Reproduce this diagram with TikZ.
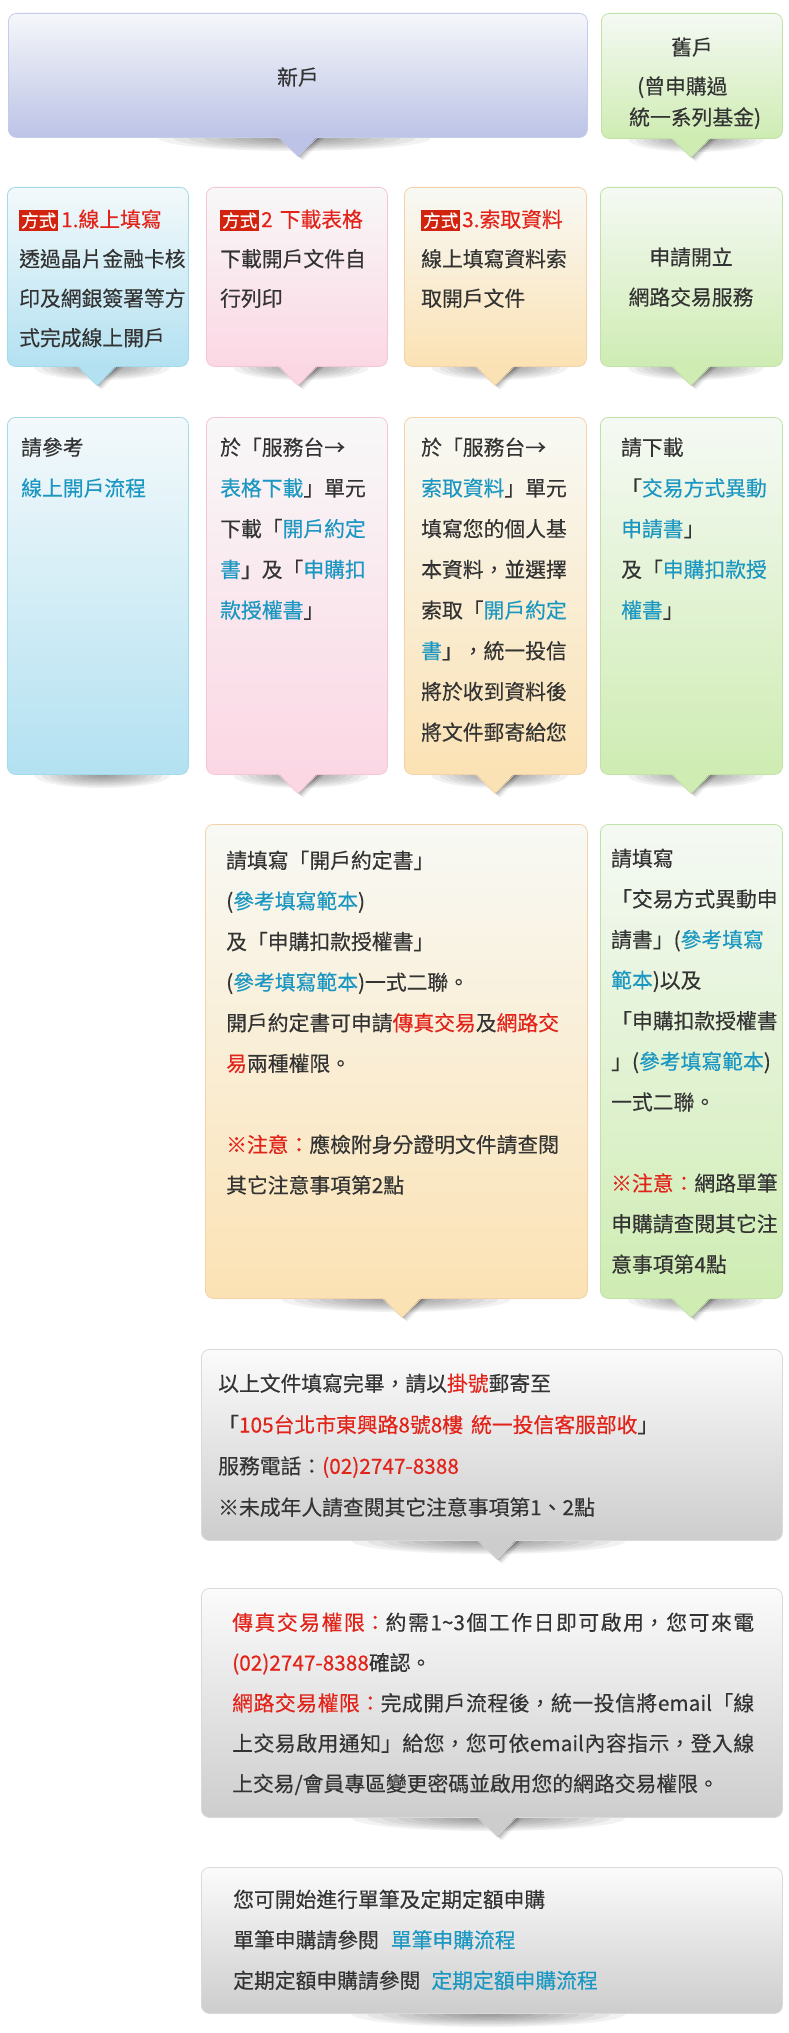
\documentclass[tikz,border=0pt]{standalone}
\usepackage{fontspec}
\setmainfont[FakeBold=0.3]{Noto Sans CJK TC}
\definecolor{txt}{HTML}{333333}
\definecolor{lnk}{HTML}{1B97C2}
\definecolor{rdc}{HTML}{E2231A}
\definecolor{bdg}{HTML}{D2230F}
\definecolor{lavtop}{HTML}{F5F7FA}\definecolor{lavbot}{HTML}{BCC3E6}\definecolor{lavbd}{HTML}{C5CBEA}
\definecolor{grntop}{HTML}{F5F9F4}\definecolor{grnbot}{HTML}{CFECB3}\definecolor{grnbd}{HTML}{C0E2A6}
\definecolor{blutop}{HTML}{F3F9FB}\definecolor{blubot}{HTML}{B3E1F1}\definecolor{blubd}{HTML}{A3DAEB}
\definecolor{pnktop}{HTML}{F8F8F8}\definecolor{pnkbot}{HTML}{FBD7E4}\definecolor{pnkbd}{HTML}{F5C5D6}
\definecolor{orgtop}{HTML}{F8F9F5}\definecolor{orgbot}{HTML}{FBE2B4}\definecolor{orgbd}{HTML}{F3D2A8}
\definecolor{grytop}{HTML}{FBFBFB}\definecolor{grybot}{HTML}{CDCDCD}\definecolor{grybd}{HTML}{D9D9D9}
\newcommand\bfz[1]{\fontsize{20.8}{#1}\selectfont}
\newcommand\lkt[1]{\textcolor{lnk}{#1}}
\newcommand\rdt[1]{\textcolor{rdc}{#1}}
\newcommand\badge[1]{{\setlength{\fboxsep}{2pt}\colorbox{bdg}{\fontsize{17.5}{17.5}\selectfont\color{white}#1}}}
\tikzset{
  cardbox/.style={rectangle, rounded corners=8pt, anchor=north west, inner sep=0pt, line width=.8pt},
  txtblock/.style={anchor=north west, inner sep=0pt, align=left, text width=320pt, text=txt,
    execute at begin node={\noindent\strut}},
  txtline/.style={inner sep=0pt, text=txt, font=\bfz{24}}
}
\newcommand\cbox[9]{%
  \pgfmathsetmacro\bw{#4-#2}%
  \pgfmathsetmacro\bh{#5-#3}%
  \pgfmathsetmacro\shc{#2+(#8+#9)/2*\bw}%
  \pgfmathsetmacro\shr{(#9-#8)/2*\bw}%
  \foreach \kk in {1,...,9}{%
    \fill[black, fill opacity=.05] (\shc,#5+1) ellipse [x radius=\shr*\kk/9, y radius=13*\kk/9];}
  \if\relax\detokenize{#7}\relax\else
    \foreach \dd/\oo in {1.5/.10,3/.08,4.5/.07,6/.05,7.5/.04}{%
      \fill[black, fill opacity=\oo] (#7-20+\dd,#5) -- (#7+20+\dd,#5) -- (#7+\dd*0.7,#5+19.5+\dd*0.6) -- cycle;}
  \fi
  \node[cardbox, top color=#6top, bottom color=#6bot, draw=#6bd, minimum width=\bw pt, minimum height=\bh pt] (#1) at (#2,#3) {};
  \if\relax\detokenize{#7}\relax\else
    \fill[#6bot] (#7-20,#5-1.2) -- (#7+20,#5-1.2) -- (#7,#5+19.5) -- cycle;
    \draw[#6bd, line width=.6pt] (#7-20,#5) -- (#7,#5+19.5) -- (#7+20,#5);
  \fi
}
\begin{document}
\begin{tikzpicture}[x=1pt,y=-1pt]
\useasboundingbox (0,0) rectangle (789,2033);
\fill[white] (0,0) rectangle (789,2033);
% row 1
\cbox{newacc}{8}{13}{587}{137}{lav}{298}{.26}{.73}
\cbox{oldacc}{601}{13}{782}{138}{grn}{691}{.15}{.9}
% row 2
\cbox{ma}{7}{187}{188}{366}{blu}{97}{.15}{.9}
\cbox{mb}{206}{187}{387}{366}{pnk}{298}{.15}{.9}
\cbox{mc}{404}{187}{586}{366}{org}{495}{.15}{.9}
\cbox{md}{600}{187}{782}{366}{grn}{691}{.15}{.9}
% row 3
\cbox{sa}{7}{417}{188}{774}{blu}{}{.15}{.9}
\cbox{sb}{206}{417}{387}{774}{pnk}{298}{.15}{.9}
\cbox{sc}{404}{417}{586}{774}{org}{495}{.15}{.9}
\cbox{sd}{600}{417}{782}{774}{grn}{691}{.15}{.9}
% row 4
\cbox{fa}{205}{824}{587}{1298}{org}{402}{.2}{.8}
\cbox{fb}{600}{824}{782}{1298}{grn}{691}{.15}{.9}
% gray
\cbox{ga}{201}{1349}{782}{1540}{gry}{497}{.26}{.73}
\cbox{gb}{201}{1588}{782}{1817}{gry}{497}{.26}{.73}
\cbox{gc}{201}{1867}{782}{2013}{gry}{}{.26}{.73}

% texts row 1
\node[txtline, anchor=base] (tnew) at (298,85) {新戶};
\node[txtline, anchor=base] (told1) at (692,55) {舊戶};
\node[txtline, anchor=base west] (told2) at (637,94) {(曾申購過};
\node[txtline, anchor=base west] (told3) at (629,125) {統一系列基金)};
% row 2
\node[txtblock, font=\bfz{39.5}] (tma) at (19,199.3) {\badge{方式}\hspace{3pt}\rdt{1.線上填寫}\\透過晶片金融卡核\\印及網銀簽署等方\\式完成線上開戶};
\node[txtblock, font=\bfz{39.5}] (tmb) at (220,199.3) {\badge{方式}\hspace{2pt}\rdt{2 下載表格}\\下載開戶文件自\\行列印};
\node[txtblock, font=\bfz{39.5}] (tmc) at (421,199.3) {\badge{方式}\hspace{2pt}\rdt{3.索取資料}\\線上填寫資料索\\取開戶文件};
\node[txtline, anchor=base] (tmd1) at (691,265) {申請開立};
\node[txtline, anchor=base] (tmd2) at (691,305) {網路交易服務};
% row 3
\node[txtblock, font=\bfz{40.7}] (tsa) at (21,426.5) {請參考\\\lkt{線上開戶流程}};
\node[txtblock, font=\bfz{40.7}] (tsb) at (220,426.5) {於「服務台→\\\lkt{表格下載}」單元\\下載「\lkt{開戶約定}\\\lkt{書}」及「\lkt{申購扣}\\\lkt{款授權書}」};
\node[txtblock, font=\bfz{40.7}] (tsc) at (421,426.5) {於「服務台→\\\lkt{索取資料}」單元\\填寫您的個人基\\本資料，並選擇\\索取「\lkt{開戶約定}\\\lkt{書}」，統一投信\\將於收到資料後\\將文件郵寄給您};
\node[txtblock, font=\bfz{40.7}] (tsd) at (621,426.5) {請下載\\「\lkt{交易方式異動}\\\lkt{申請書}」\\及「\lkt{申購扣款授}\\\lkt{權書}」};
% row 4
\node[txtblock, font=\bfz{40.6}] (tfa) at (226,839.6) {請填寫「開戶約定書」\\(\lkt{參考填寫範本})\\及「申購扣款授權書」\\(\lkt{參考填寫範本})一式二聯。\\開戶約定書可申請\rdt{傳真交易}及\rdt{網路交}\\\rdt{易}兩種權限。\\\strut\\\rdt{※注意：}應檢附身分證明文件請查閱\\其它注意事項第2點};
\node[txtblock, font=\bfz{40.6}] (tfb) at (611,837.6) {請填寫\\「交易方式異動申\\請書」(\lkt{參考填寫}\\\lkt{範本})以及\\「申購扣款授權書\\」(\lkt{參考填寫範本})\\一式二聯。\\\strut\\\rdt{※注意：}網路單筆\\申購請查閱其它注\\意事項第4點};
% gray boxes
\node[txtblock, text width=560pt, font=\bfz{41.3}] (tga) at (218,1362.1) {以上文件填寫完畢，請以\rdt{掛號}郵寄至\\「\rdt{105台北市東興路8號8樓\hspace{8pt}統一投信客服部收}」\\服務電話：\rdt{(02)2747-8388}\\※未成年人請查閱其它注意事項第1、2點};
\node[txtblock, align=justify, text width=522pt, font={\bfz{40.3}\XeTeXlinebreaklocale "zh"\XeTeXlinebreakskip=0pt plus 6pt\relax}] (tgb) at (232,1601.8) {\rdt{傳真交易權限：}約需1\textasciitilde3個工作日即可啟用，您可來電\linebreak
\rdt{(02)2747-8388}確認。\\
\rdt{網路交易權限：}完成開戶流程後，統一投信將email「線\linebreak
上交易啟用通知」給您，您可依email內容指示，登入線\linebreak
上交易/會員專區變更密碼並啟用您的網路交易權限。};
\node[txtblock, text width=560pt, font=\bfz{40.5}] (tgc) at (233,1878.7) {您可開始進行單筆及定期定額申購\\單筆申購請參閱\hspace{12pt}\lkt{單筆申購流程}\\定期定額申購請參閱\hspace{11pt}\lkt{定期定額申購流程}};
\end{tikzpicture}
\end{document}
